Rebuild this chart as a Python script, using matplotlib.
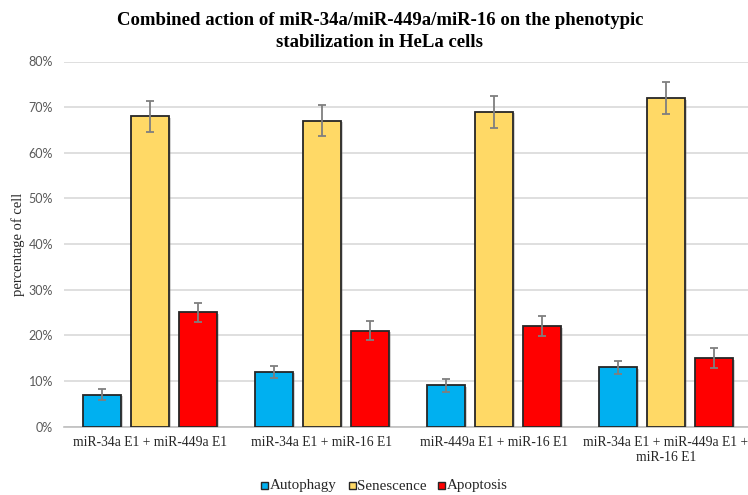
import matplotlib
matplotlib.use("Agg")
import matplotlib.pyplot as plt
import matplotlib.patheffects as pe
from matplotlib.patches import Rectangle
from matplotlib.ticker import FuncFormatter
import numpy as np

categories = ["miR-34a E1 + miR-449a E1", "miR-34a E1 + miR-16 E1",
              "miR-449a E1 + miR-16 E1", "miR-34a E1 + miR-449a E1 +\nmiR-16 E1"]
series_names = ["Autophagy", "Senescence", "Apoptosis"]
autophagy = [7, 12, 9, 13]
senescence = [68, 67, 69, 72]
apoptosis = [25, 21, 22, 15]
autophagy_err = [1.3, 1.35, 1.4, 1.45]
senescence_err = [3.45, 3.4, 3.5, 3.55]
apoptosis_err = [2.15, 2.1, 2.15, 2.15]
yticks = [0, 10, 20, 30, 40, 50, 60, 70, 80]

colors = ["#00B0F0", "#FFD966", "#FF0000"]
values = [autophagy, senescence, apoptosis]
errors = [autophagy_err, senescence_err, apoptosis_err]

W, H = 748, 495
fig = plt.figure(figsize=(W / 100, H / 100), dpi=100)
left, right, bottom, top = 64, 752, 426.5, 61.5
ax = fig.add_axes([left / W, 1 - bottom / H, (right - left) / W, (bottom - top) / H])

x = np.arange(len(categories))
width = 0.224
step = 0.279
shadow = [pe.SimplePatchShadow(offset=(1.2, -1.2), shadow_rgbFace="#808080", alpha=0.35), pe.Normal()]
for i, (vals, errs, c, name) in enumerate(zip(values, errors, colors, series_names)):
    bars = ax.bar(x + (i - 1) * step, vals, width, color=c, edgecolor="#262626",
                  linewidth=1.3, label=name, zorder=3)
    for b in bars:
        b.set_path_effects(shadow)
    ax.errorbar(x + (i - 1) * step, vals, yerr=errs, fmt="none", ecolor="#7F7F7F",
                elinewidth=1.3, capsize=3, capthick=1.3, zorder=4)

ax.set_xlim(-0.5, 3.5)
ax.set_ylim(0, 80)
ax.set_yticks(yticks)
ax.yaxis.set_major_formatter(FuncFormatter(lambda v, p: f"{int(v)}%"))
ax.grid(axis="y", color="#D9D9D9", linewidth=1.2, zorder=0)
ax.set_axisbelow(True)
for s in ["top", "right", "left"]:
    ax.spines[s].set_visible(False)
ax.spines["bottom"].set_color("#BFBFBF")
ax.spines["bottom"].set_linewidth(1.2)
ax.spines["bottom"].set_zorder(2)
ax.tick_params(axis="y", length=0, pad=8, labelsize=9, labelcolor="#595959")
for t in ax.get_yticklabels():
    t.set_fontfamily("Lato")
ax.set_xticks(x)
ax.set_xticklabels(categories, fontfamily="Liberation Serif", fontsize=9.8, color="#262626",
                   linespacing=1.15)
ax.tick_params(axis="x", length=0, pad=7)

ax.set_ylabel("percentage of cell", fontfamily="Liberation Serif", fontsize=10.5,
              color="#262626", va="center")
ax.yaxis.set_label_coords((18 - left) / (right - left), 0.5)

fig.text(0.508, 0.975, "Combined action of miR-34a/miR-449a/miR-16 on the phenotypic\nstabilization in HeLa cells",
         ha="center", va="top", fontfamily="Liberation Serif", fontweight="bold", fontsize=13.5,
         linespacing=1.35, color="#000000")

# legend (manual, baseline-aligned)
legend_x = [261, 349, 438]
sq = 7
for lx, c, name in zip(legend_x, colors, series_names):
    fig.add_artist(Rectangle((lx / W, 1 - 489 / H), sq / W, sq / H, transform=fig.transFigure,
                             facecolor=c, edgecolor="#262626", linewidth=1.0))
    fig.text((lx + sq + 1.5) / W, 1 - 489.5 / H, name, ha="left", va="baseline",
             fontfamily="Liberation Serif", fontsize=10.8, color="#262626")

fig.savefig("out.png", dpi=100)
